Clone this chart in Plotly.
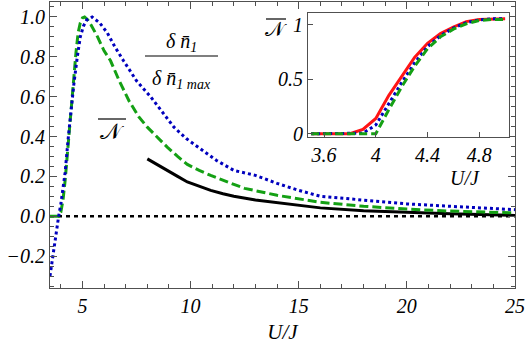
import plotly.graph_objects as go

# ---- main panel data ----
green_x = [3.5, 3.9, 4.0, 4.1, 4.2, 4.3, 4.4, 4.5, 4.6, 4.7, 4.8, 4.9, 5.0, 5.1, 5.25, 5.4, 5.7, 6.0, 6.3, 6.7, 7.15, 7.6, 8.0, 8.5, 8.92, 9.4, 9.85, 10.4, 10.93, 12.0, 12.5, 14.0, 16.0, 18.0, 20.0, 22.0, 25.0]
green_y = [0.0, 0.0, 0.02, 0.08, 0.18, 0.31, 0.45, 0.58, 0.70, 0.82, 0.92, 0.97, 0.995, 1.0, 0.985, 0.96, 0.90, 0.83, 0.78, 0.68, 0.58, 0.50, 0.447, 0.39, 0.347, 0.30, 0.26, 0.23, 0.205, 0.16, 0.14, 0.105, 0.07, 0.05, 0.036, 0.026, 0.017]

blue_x = [3.5, 3.6, 3.75, 3.9, 4.0, 4.1, 4.2, 4.35, 4.5, 4.6, 4.75, 4.9, 5.05, 5.2, 5.45, 5.8, 6.15, 6.5, 6.9, 7.5, 8.15, 8.7, 9.23, 9.8, 10.46, 11.2, 12.0, 13.0, 14.0, 15.0, 16.0, 18.0, 20.0, 22.0, 25.0]
blue_y = [-0.30, -0.22, -0.12, 0.0, 0.06, 0.13, 0.22, 0.40, 0.57, 0.66, 0.79, 0.90, 0.955, 0.985, 1.0, 0.97, 0.92, 0.85, 0.78, 0.68, 0.60, 0.52, 0.447, 0.39, 0.34, 0.28, 0.23, 0.205, 0.165, 0.13, 0.10, 0.08, 0.062, 0.05, 0.033]

black_x = [8.0, 8.5, 8.92, 9.4, 9.85, 10.4, 10.93, 11.5, 12.0, 13.0, 14.0, 16.0, 18.0, 20.0, 22.0, 25.0]
black_y = [0.288, 0.258, 0.23, 0.20, 0.172, 0.15, 0.13, 0.113, 0.10, 0.082, 0.068, 0.042, 0.028, 0.02, 0.012, 0.004]

zero_x = [3.5, 25.0]
zero_y = [0.0, 0.0]

# ---- inset data ----
inset_x = [3.5, 3.6, 3.7, 3.8, 3.9, 4.0, 4.1, 4.2, 4.3, 4.4, 4.5, 4.6, 4.7, 4.8, 4.9, 5.0]
inset_red = [0.0, 0.0, 0.0, 0.0, 0.04, 0.14, 0.35, 0.53, 0.70, 0.83, 0.92, 0.98, 1.03, 1.05, 1.055, 1.055]
inset_blue = [0.0, 0.0, 0.0, 0.0, 0.005, 0.08, 0.28, 0.47, 0.65, 0.80, 0.90, 0.97, 1.02, 1.045, 1.055, 1.055]
inset_green = [0.0, 0.0, 0.0, 0.0, 0.0, 0.0, 0.22, 0.43, 0.62, 0.78, 0.89, 0.96, 1.01, 1.04, 1.05, 1.05]

main_xticks = [5, 10, 15, 20, 25]
main_xticklabels = ["5", "10", "15", "20", "25"]
main_yticks = [-0.2, 0.0, 0.2, 0.4, 0.6, 0.8, 1.0]
main_yticklabels = ["\u22120.2", "0.0", "0.2", "0.4", "0.6", "0.8", "1.0"]
inset_xticks = [3.6, 4.0, 4.4, 4.8]
inset_xticklabels = ["3.6", "4", "4.4", "4.8"]
inset_yticks = [0, 0.5, 1]
inset_yticklabels = ["0", "0.5", "1"]

SERIF = "Liberation Serif"
GREEN = "rgb(20,160,20)"
BLUE = "rgb(0,0,190)"
RED = "rgb(255,20,20)"
FRAME = "rgb(80,80,80)"


def it(labels):
    return ["<i>" + s + "</i>" for s in labels]


fig = go.Figure()
fig.add_trace(go.Scatter(x=zero_x, y=zero_y, mode="lines",
                         line=dict(color="black", width=2.5, dash="4px,4px")))
fig.add_trace(go.Scatter(x=black_x, y=black_y, mode="lines",
                         line=dict(color="black", width=3)))
fig.add_trace(go.Scatter(x=green_x, y=green_y, mode="lines",
                         line=dict(color=GREEN, width=3, dash="9px,4px")))
fig.add_trace(go.Scatter(x=blue_x, y=blue_y, mode="lines",
                         line=dict(color=BLUE, width=3, dash="3px,3px")))

# inset
fig.add_trace(go.Scatter(x=inset_x, y=inset_red, mode="lines", xaxis="x2", yaxis="y2",
                         line=dict(color=RED, width=3)))
fig.add_trace(go.Scatter(x=inset_x, y=inset_blue, mode="lines", xaxis="x2", yaxis="y2",
                         line=dict(color=BLUE, width=3, dash="3px,3px")))
fig.add_trace(go.Scatter(x=inset_x, y=inset_green, mode="lines", xaxis="x2", yaxis="y2",
                         line=dict(color=GREEN, width=3, dash="8px,4px")))

tickfont = dict(family=SERIF, size=20, color="black")

fig.update_layout(
    width=530, height=353,
    margin=dict(l=50, r=15, t=2, b=65),
    paper_bgcolor="white", plot_bgcolor="white",
    showlegend=False,
    font=dict(family=SERIF, size=20, color="black"),
    xaxis=dict(domain=[0, 1], range=[3.5, 25], tickvals=main_xticks, ticktext=it(main_xticklabels),
               ticks="inside", ticklen=7, tickcolor=FRAME, tickwidth=1,
               minor=dict(dtick=1, tick0=0, ticks="inside", ticklen=4, tickcolor=FRAME),
               showline=True, linecolor=FRAME, linewidth=1, mirror="ticks",
               showgrid=False, zeroline=False, tickfont=tickfont,
               title=dict(text="<i>U/J</i>", font=dict(family=SERIF, size=21, color="black"),
                          standoff=8)),
    yaxis=dict(domain=[0, 1], range=[-0.36, 1.075], tickvals=main_yticks, ticktext=it(main_yticklabels),
               ticks="inside", ticklen=7, tickcolor=FRAME, tickwidth=1,
               minor=dict(dtick=0.05, tick0=0, ticks="inside", ticklen=4, tickcolor=FRAME),
               showline=True, linecolor=FRAME, linewidth=1, mirror="ticks",
               showgrid=False, zeroline=False, tickfont=tickfont),
    xaxis2=dict(domain=[0.555, 0.987], anchor="y2", range=[3.476, 5.03],
                tickvals=inset_xticks, ticktext=it(inset_xticklabels),
                ticks="inside", ticklen=5, tickcolor=FRAME,
                showline=True, linecolor=FRAME, linewidth=1, mirror=True,
                showgrid=False, zeroline=False, tickfont=tickfont),
    yaxis2=dict(domain=[0.528, 0.962], anchor="x2", range=[-0.03, 1.11],
                tickvals=inset_yticks, ticktext=it(inset_yticklabels),
                ticks="inside", ticklen=5, tickcolor=FRAME,
                showline=True, linecolor=FRAME, linewidth=1, mirror=True,
                showgrid=False, zeroline=False, tickfont=tickfont),
)

# inset background
fig.add_shape(type="rect", xref="x2 domain", yref="y2 domain", x0=0, x1=1, y0=0, y1=1,
              fillcolor="white", line=dict(width=0), layer="below")

labfont = dict(family=SERIF, size=20, color="black")
# fraction label
fig.add_annotation(xref="paper", yref="paper", x=(181 - 50) / 465, y=(288 - 42) / 286,
                   text="<i>δ n\u0304<sub>1</sub></i>", showarrow=False, font=labfont,
                   xanchor="center", yanchor="middle")
fig.add_annotation(xref="paper", yref="paper", x=(181 - 50) / 465, y=(288 - 79) / 286,
                   text="<i>δ n\u0304<sub>1 max</sub></i>", showarrow=False, font=labfont,
                   xanchor="center", yanchor="middle")
fig.add_shape(type="line", xref="paper", yref="paper",
              x0=(145 - 50) / 465, x1=(218 - 50) / 465,
              y0=(288 - 56) / 286, y1=(288 - 56) / 286,
              line=dict(color="black", width=1.2))
# N-bar labels
fig.add_annotation(xref="paper", yref="paper", x=(112 - 50) / 465, y=(288 - 131) / 286,
                   text="\U0001D4A9", showarrow=False, font=dict(family="DejaVu Sans", size=22, color="black"),
                   xanchor="center", yanchor="middle")
fig.add_shape(type="line", xref="paper", yref="paper",
              x0=(98 - 50) / 465, x1=(126 - 50) / 465,
              y0=(288 - 119) / 286, y1=(288 - 119) / 286,
              line=dict(color="black", width=1.2))
fig.add_annotation(xref="paper", yref="paper", x=(276 - 50) / 465, y=(288 - 29) / 286,
                   text="\U0001D4A9", showarrow=False, font=dict(family="DejaVu Sans", size=20, color="black"),
                   xanchor="center", yanchor="middle")
fig.add_shape(type="line", xref="paper", yref="paper",
              x0=(266 - 50) / 465, x1=(286 - 50) / 465,
              y0=(288 - 19) / 286, y1=(288 - 19) / 286,
              line=dict(color="black", width=1.2))
# inset x label
fig.add_annotation(xref="paper", yref="paper", x=(465 - 50) / 465, y=(288 - 178) / 286,
                   text="<i>U/J</i>", showarrow=False, font=labfont,
                   xanchor="center", yanchor="middle")

fig.write_html("out.html")
